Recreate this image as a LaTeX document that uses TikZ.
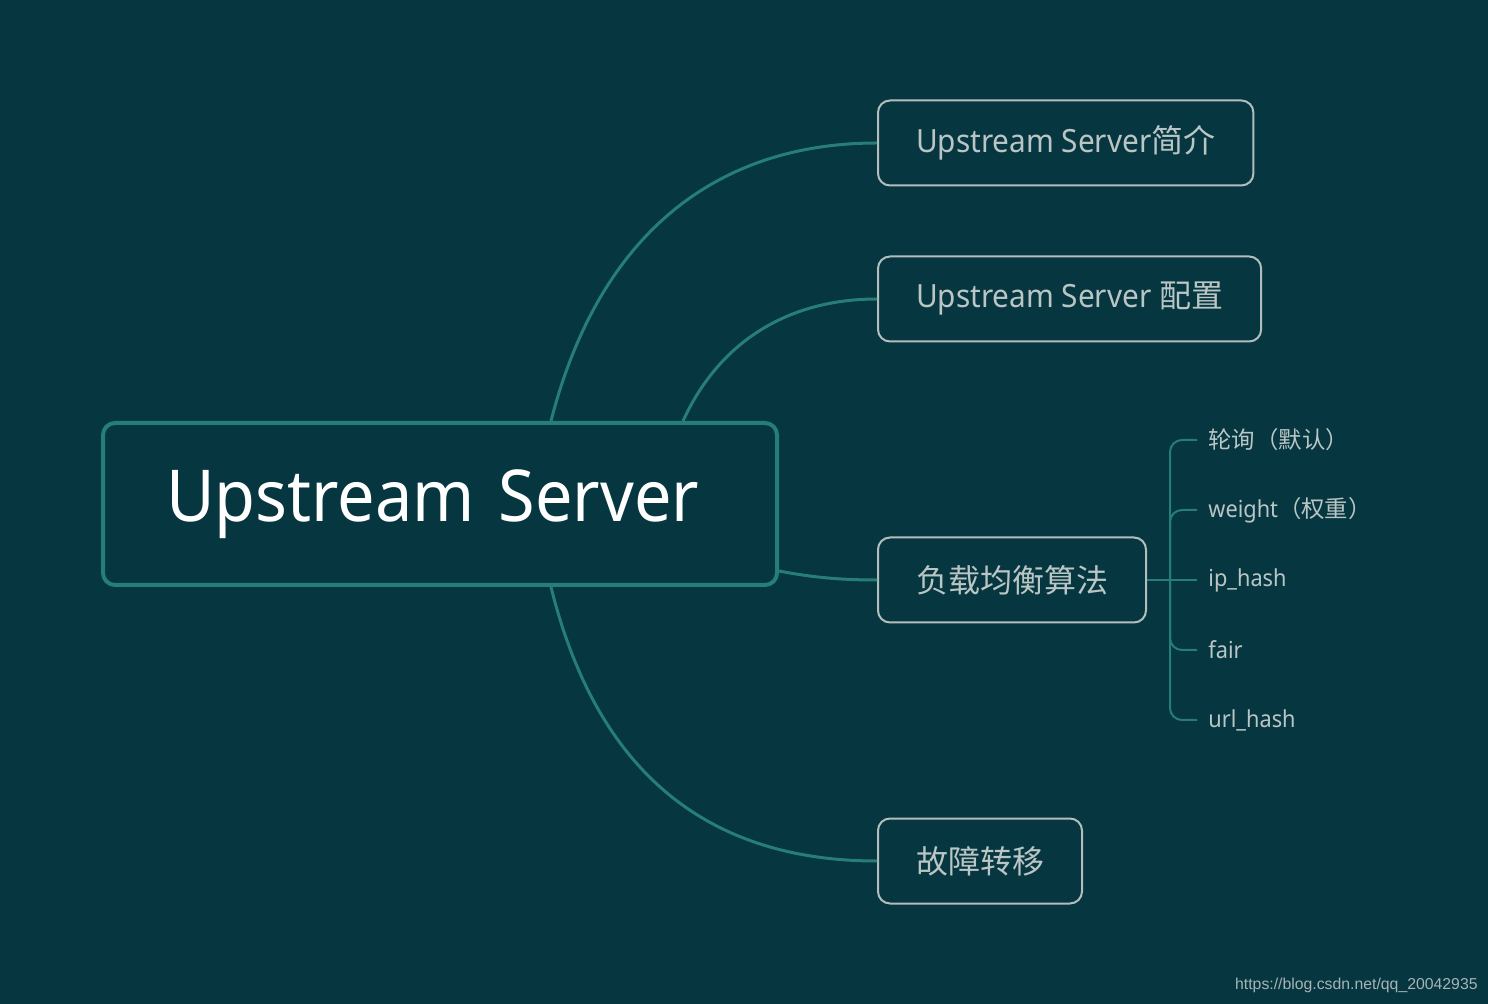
\documentclass[tikz,border=0pt]{standalone}
\usepackage{fontspec}
\setmainfont{Noto Sans}[FakeStretch=0.93]
\newfontfamily\cjk{Noto Sans CJK SC}
\newfontfamily\wmfont{Liberation Sans}
\definecolor{bgc}{HTML}{06363F}
\definecolor{tealc}{HTML}{277D79}
\definecolor{boxc}{HTML}{B3BDBD}
\definecolor{txtc}{HTML}{BAC5C5}
\definecolor{wmc}{HTML}{A6B4B6}
\tikzset{
  rootbox/.style={draw=tealc, line width=2pt, rounded corners=6pt, fill=bgc,
    text=white, font=\fontsize{35.8}{42}\selectfont, minimum height=81pt,
    inner xsep=31.5pt, text width=274pt, align=left, anchor=north west},
  branchbox/.style={draw=boxc, line width=1pt, rounded corners=6pt, fill=bgc,
    text=txtc, font=\fontsize{16}{20}\selectfont, minimum height=42.5pt,
    inner xsep=19pt, anchor=west},
  sublabel/.style={text=txtc, font=\fontsize{11.7}{14}\selectfont, anchor=west, inner xsep=5.5pt, inner ysep=0pt},
  mainline/.style={draw=tealc, line width=1.5pt},
  subline/.style={draw=tealc, line width=1pt, rounded corners=6pt},
}
\begin{document}
\begin{tikzpicture}[x=0.5pt,y=-0.5pt]
\fill[bgc] (0,0) rectangle (1488,1004);
\useasboundingbox (0,0) rectangle (1488,1004);

\node[rootbox] (root) at (101,421) {Upstream Server};

\node[branchbox] (b1) at (877,143) {Upstream Server\cjk{简介}};
\node[branchbox] (b2) at (877,299) {Upstream Server \cjk{配置}};
\node[branchbox] (b3) at (877,580) {\cjk{负载均衡算法}};
\node[branchbox] (b4) at (877,861) {\cjk{故障转移}};

\draw[mainline] ([xshift=225pt]root.north west) .. controls (600,230) and (720,143) .. (b1.west);
\draw[mainline] ([xshift=291pt]root.north west) .. controls (720,340) and (790,299) .. (b2.west);
\draw[mainline] ([yshift=-33.5pt]root.east) .. controls (815,578) and (845,580) .. (b3.west);
\draw[mainline] ([xshift=225pt]root.south west) .. controls (600,785) and (720,861) .. (b4.west);

\node[sublabel] (s1) at (1197,440) {\cjk{轮询（默认）}};
\node[sublabel] (s2) at (1197,510) {weight\cjk{（权重）}};
\node[sublabel] (s3) at (1197,580) {ip\_hash};
\node[sublabel] (s4) at (1197,650) {fair};
\node[sublabel] (s5) at (1197,720) {url\_hash};

\coordinate (spine) at (1170,580);
\draw[subline] (b3.east) -- (s3.west);
\draw[subline] (s1.west) -| (spine) |- (s5.west);
\draw[subline] (s2.west) -| (spine);
\draw[subline] (s4.west) -| (spine);

\node[text=wmc, font=\wmfont\fontsize{7.9}{9}\selectfont, anchor=east, inner sep=0pt] (wm) at (1478,985) {https://blog.csdn.net/qq\_20042935};
\end{tikzpicture}
\end{document}
